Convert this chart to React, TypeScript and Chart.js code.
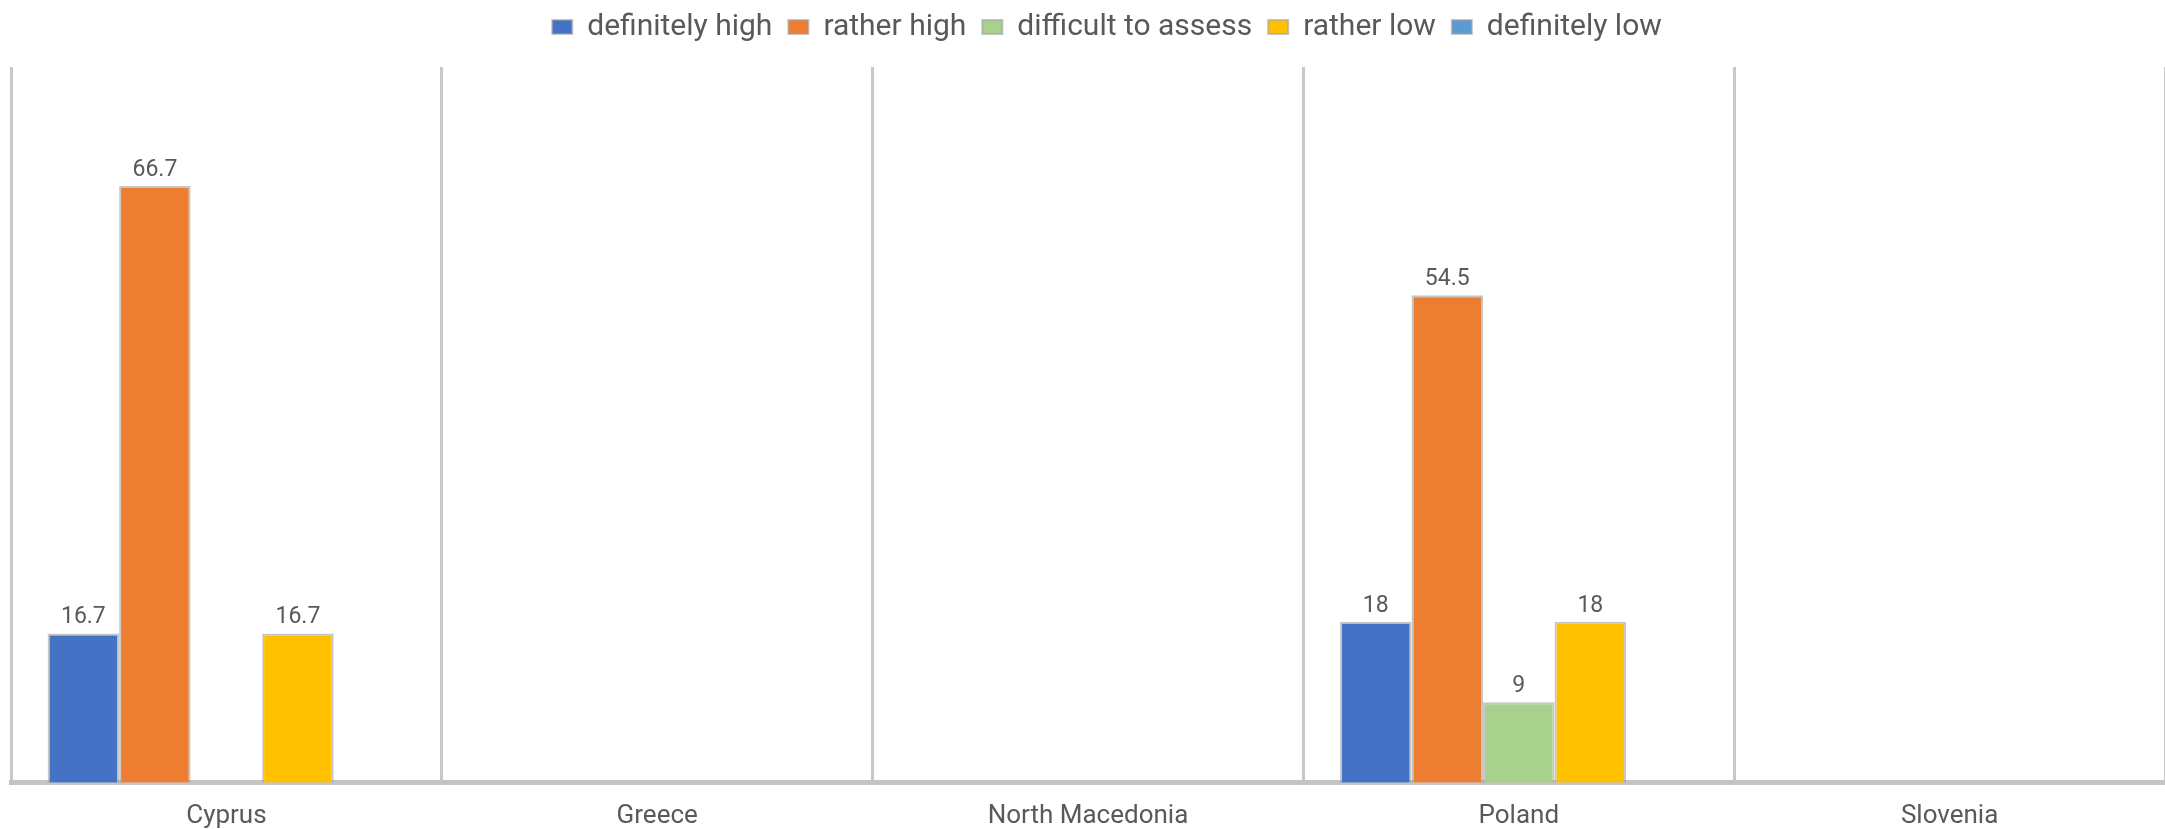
import { useEffect, useRef } from "react";
import { Chart, registerables } from "chart.js";

Chart.register(...registerables);

const categories = ["Cyprus", "Greece", "North Macedonia", "Poland", "Slovenia"];
const seriesNames = ["definitely high", "rather high", "difficult to assess", "rather low", "definitely low"];
const definitelyHigh = [16.7, null, null, 18, null];
const ratherHigh = [66.7, null, null, 54.5, null];
const difficultToAssess = [null, null, null, 9, null];
const ratherLow = [16.7, null, null, 18, null];
const definitelyLow = [null, null, null, null, null];
const seriesColors = ["#4472C4", "#ED7D31", "#A9D18E", "#FFC000", "#5B9BD5"];
const yMax = 80;

const FONT = "Roboto, 'Open Sans', sans-serif";

const valueLabels = {
  id: "valueLabels",
  afterDatasetsDraw(chart: any) {
    const ctx = chart.ctx;
    ctx.save();
    ctx.font = `23px ${FONT}`;
    ctx.fillStyle = "#595959";
    ctx.textAlign = "center";
    ctx.textBaseline = "alphabetic";
    chart.data.datasets.forEach((ds: any, i: number) => {
      const meta = chart.getDatasetMeta(i);
      meta.data.forEach((bar: any, j: number) => {
        const v = ds.data[j];
        if (v == null) return;
        ctx.fillText(String(v), bar.x, bar.y - 10);
      });
    });
    ctx.restore();
  },
};

const legendTweak = {
  id: "legendTweak",
  beforeInit(chart: any) {
    const legend = chart.legend;
    if (!legend) return;
    const origFit = legend.fit;
    legend.fit = function () {
      origFit.call(this);
      this.height += 17;
    };
    const origDraw = legend.draw;
    legend.draw = function () {
      const ctx = this.ctx;
      ctx.save();
      ctx.translate(19, 2);
      origDraw.call(this);
      ctx.restore();
    };
  },
};

export default function App() {
  const ref = useRef<HTMLCanvasElement>(null);
  useEffect(() => {
    if (!ref.current) return;
    const seriesData = [definitelyHigh, ratherHigh, difficultToAssess, ratherLow, definitelyLow];
    const chart = new Chart(ref.current, {
      type: "bar",
      data: {
        labels: categories,
        datasets: seriesNames.map((name, i) => ({
          label: name,
          data: seriesData[i] as any,
          backgroundColor: seriesColors[i],
          borderColor: "rgba(160,160,160,0.6)",
          borderWidth: 2,
          categoryPercentage: 0.83,
          barPercentage: 1.0,
        })),
      },
      options: {
        responsive: false,
        animation: false,
        devicePixelRatio: 1,
        layout: { padding: { left: 11, right: 0, top: -6, bottom: -21 } },
        plugins: {
          legend: {
            position: "top",
            labels: {
              font: { family: FONT, size: 30 },
              color: "#595959",
              boxWidth: 20,
              boxHeight: 14,
              padding: 16,
            },
          },
          tooltip: { enabled: false },
        },
        scales: {
          x: {
            grid: {
              display: true,
              color: "#C8C8C8",
              lineWidth: 3,
              drawTicks: false,
              offset: true,
            },
            border: { display: true, color: "#C4C4C4", width: 5 },
            ticks: {
              font: { family: FONT, size: 26 },
              color: "#595959",
              padding: 18,
            },
          },
          y: {
            display: false,
            min: 0,
            max: yMax,
          },
        },
      },
      plugins: [valueLabels, legendTweak],
    });
    return () => chart.destroy();
  }, []);
  return (
    <div style={{ position: "fixed", left: 0, top: 0, width: 2165, height: 829, background: "#fff" }}>
      <canvas ref={ref} width={2165} height={829} style={{ width: 2165, height: 829, display: "block" }} />
    </div>
  );
}
